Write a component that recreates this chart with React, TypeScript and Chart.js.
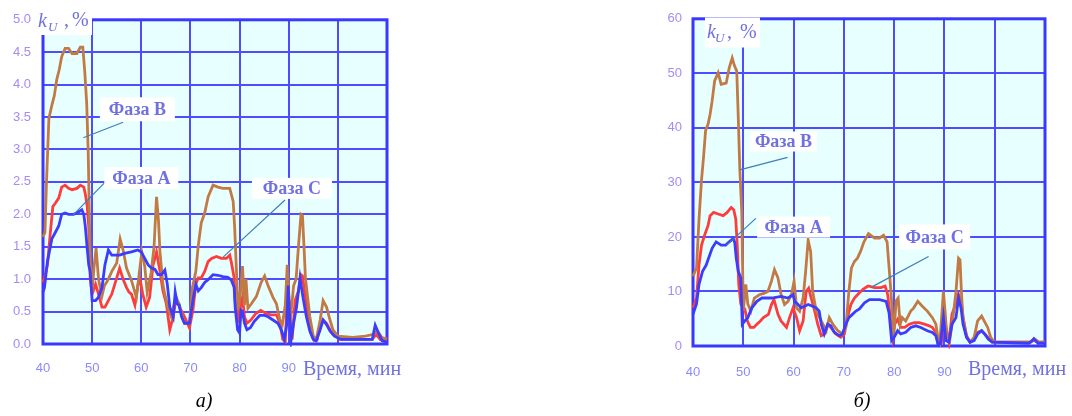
import React, { useEffect, useRef } from 'react';
import { Chart, registerables } from 'chart.js';

Chart.register(...registerables);

// ---------- Panel а) : time (min) and kU (%) ----------
const leftTimeA = [40, 40.3, 40.9, 41.8, 42.5, 43.2, 43.8, 44.5, 45.2, 46.2, 46.9, 47.9, 48.3, 48.6, 49.0, 49.3, 49.6, 50.0, 50.7, 51.3, 52.0, 52.6, 53.3, 54.0, 55.6, 56.8, 58.0, 59.3, 60.0, 60.7, 61.4, 62.1, 62.8, 63.4, 64.1, 64.8, 65.3, 65.8, 66.5, 66.9, 67.3, 67.7, 68.2, 68.8, 69.8, 70.5, 71.1, 71.6, 72.2, 72.9, 73.6, 74.6, 75.6, 76.6, 77.6, 78.3, 78.9, 79.1, 79.6, 80.0, 80.3, 80.6, 81.0, 81.5, 82.2, 83.0, 84.1, 85.1, 85.8, 86.8, 87.8, 88.5, 89.1, 89.6, 89.9, 90.2, 90.5, 91.0, 91.6, 92.3, 92.9, 93.6, 94.3, 95.0, 95.6, 96.4, 97.0, 97.7, 98.4, 99.3, 100.7, 107.0, 107.6, 108.1, 109.0, 110.0];
const leftPhaseA = [0.8, 0.87, 1.27, 1.62, 1.72, 1.82, 2.0, 2.02, 2.0, 2.0, 2.02, 2.07, 2.0, 1.82, 1.47, 1.22, 1.12, 0.67, 0.67, 0.72, 0.87, 1.22, 1.45, 1.37, 1.37, 1.4, 1.42, 1.45, 1.42, 1.32, 1.22, 1.17, 1.15, 1.07, 1.07, 1.14, 0.92, 0.57, 0.42, 0.8, 0.62, 0.6, 0.42, 0.32, 0.32, 0.67, 0.92, 0.82, 0.87, 0.95, 0.99, 1.07, 1.06, 1.04, 1.03, 0.99, 0.87, 0.57, 0.22, 0.17, 0.52, 0.5, 0.32, 0.22, 0.25, 0.35, 0.44, 0.44, 0.42, 0.37, 0.32, 0.22, 0.07, 0.3, 0.9, 0.4, 0.07, 0.32, 0.57, 1.02, 0.72, 0.42, 0.2, 0.07, 0.05, 0.22, 0.37, 0.3, 0.2, 0.12, 0.07, 0.07, 0.29, 0.2, 0.05, 0.03];

const leftTimeB = [40, 40.4, 40.7, 41.2, 41.8, 42.3, 42.8, 43.3, 43.8, 44.5, 45.2, 45.9, 46.9, 47.6, 48.1, 48.5, 48.9, 49.2, 49.6, 50.0, 50.4, 50.8, 51.3, 52.0, 52.5, 53.1, 54.0, 55.0, 55.7, 56.3, 57.0, 58.0, 59.0, 59.6, 60.1, 60.7, 61.2, 62.0, 62.6, 63.1, 63.5, 63.8, 64.4, 64.7, 65.4, 66.1, 67.0, 67.7, 68.4, 68.8, 69.8, 70.4, 71.1, 71.6, 72.2, 72.9, 73.6, 74.6, 75.6, 76.6, 78.0, 78.7, 79.0, 79.3, 79.7, 80.2, 80.6, 81.0, 81.3, 81.7, 82.4, 83.4, 84.4, 85.1, 85.8, 86.8, 87.5, 88.2, 88.7, 89.3, 89.7, 90.3, 91.0, 91.5, 92.0, 92.5, 92.8, 93.1, 93.4, 94.3, 95.0, 95.6, 96.4, 97.0, 97.7, 98.4, 99.0, 100.0, 103.0, 105.6, 107.3, 108.0, 109.0, 110.0];
const leftPhaseB = [1.65, 1.72, 2.47, 3.48, 3.68, 3.83, 4.08, 4.23, 4.43, 4.56, 4.56, 4.48, 4.48, 4.58, 4.58, 4.2, 3.7, 2.95, 1.3, 0.82, 1.2, 1.48, 1.0, 0.74, 0.9, 0.97, 1.12, 1.25, 1.62, 1.45, 1.17, 0.98, 0.72, 1.1, 1.42, 1.2, 0.8, 1.1, 1.5, 2.27, 1.9, 1.42, 0.92, 0.8, 0.57, 0.42, 0.72, 0.62, 0.4, 0.32, 0.32, 0.87, 1.12, 1.52, 1.87, 2.02, 2.27, 2.45, 2.42, 2.4, 2.4, 2.2, 1.8, 1.25, 0.52, 0.81, 1.2, 0.6, 1.0, 0.55, 0.62, 0.73, 0.95, 1.05, 0.9, 0.72, 0.62, 0.37, 0.3, 0.6, 1.22, 0.35, 0.9, 1.0, 1.52, 2.0, 1.98, 1.52, 1.02, 0.42, 0.12, 0.07, 0.37, 0.67, 0.57, 0.37, 0.22, 0.12, 0.1, 0.12, 0.15, 0.2, 0.1, 0.08];

const leftTimeC = [40, 40.3, 40.9, 41.5, 42.0, 42.5, 43.2, 43.8, 44.5, 45.2, 45.9, 46.9, 47.6, 48.3, 48.6, 49.0, 49.3, 49.6, 50.0, 50.7, 51.3, 52.0, 52.6, 53.3, 54.0, 54.6, 55.6, 56.3, 57.0, 57.5, 58.0, 58.7, 59.3, 59.7, 60.3, 61.0, 61.7, 62.4, 63.1, 63.8, 64.4, 65.1, 65.8, 66.5, 67.1, 67.8, 68.8, 69.8, 70.5, 71.1, 71.6, 72.2, 72.9, 73.6, 74.3, 75.3, 76.3, 77.3, 78.0, 78.3, 78.9, 79.1, 79.6, 79.9, 80.2, 80.6, 81.0, 81.5, 82.3, 83.3, 84.3, 85.4, 86.4, 87.5, 88.2, 88.8, 89.3, 89.7, 90.4, 90.7, 91.3, 92.0, 92.5, 92.8, 93.2, 93.9, 94.5, 95.2, 95.8, 96.3, 97.0, 97.7, 98.4, 99.0, 100.4, 107.0, 107.8, 108.6, 110.0];
const leftPhaseC = [0.95, 1.02, 1.22, 1.72, 2.12, 2.17, 2.25, 2.42, 2.45, 2.4, 2.38, 2.4, 2.45, 2.42, 2.32, 2.12, 1.82, 1.02, 0.77, 0.92, 0.77, 0.57, 0.57, 0.67, 0.77, 0.92, 1.17, 1.0, 0.87, 0.8, 0.77, 0.6, 0.9, 1.02, 0.77, 0.57, 0.72, 1.22, 1.42, 1.12, 0.82, 0.62, 0.22, 0.42, 0.72, 0.57, 0.42, 0.25, 0.52, 0.92, 1.02, 1.02, 1.12, 1.27, 1.32, 1.35, 1.32, 1.32, 1.37, 1.27, 1.02, 0.67, 0.32, 0.67, 0.57, 0.72, 0.42, 0.32, 0.37, 0.47, 0.52, 0.47, 0.45, 0.45, 0.32, 0.07, 0.04, 0.7, 0.32, 0.07, 0.67, 0.82, 1.07, 1.05, 0.82, 0.47, 0.17, 0.05, 0.07, 0.27, 0.37, 0.32, 0.22, 0.15, 0.07, 0.07, 0.15, 0.07, 0.05];

// ---------- Panel б) ----------
const rightTimeA = [40, 40.7, 41.2, 41.9, 42.6, 43.1, 43.8, 44.6, 45.6, 46.5, 47.2, 48.0, 48.3, 48.6, 49.0, 49.5, 49.8, 50.3, 50.9, 51.7, 52.7, 53.7, 55.7, 57.5, 58.9, 59.9, 60.2, 60.9, 61.5, 62.2, 62.9, 63.8, 64.5, 65.1, 65.5, 66.1, 66.8, 67.4, 68.1, 69.1, 69.7, 70.4, 71.0, 71.7, 72.4, 73.1, 74.1, 75.1, 77.1, 78.4, 79.0, 79.5, 80.0, 80.7, 81.3, 82.3, 83.3, 84.3, 85.3, 86.6, 87.6, 88.3, 88.7, 89.2, 89.8, 90.3, 90.9, 91.5, 92.3, 92.8, 93.3, 93.7, 94.4, 95.1, 95.9, 96.6, 97.4, 98.0, 98.7, 99.5, 106.8, 107.8, 108.6, 110];
const rightPhaseA = [5.8, 7.7, 11.3, 13.7, 14.8, 16.1, 17.9, 19.1, 18.5, 18.5, 19.1, 19.7, 19.0, 16.1, 13.7, 12.5, 4.0, 4.6, 5.2, 7.0, 8.2, 8.8, 8.8, 9.1, 8.8, 9.4, 8.2, 7.6, 7.0, 7.3, 7.6, 7.3, 7.0, 6.4, 4.0, 2.2, 4.0, 3.7, 2.5, 1.9, 2.2, 4.0, 5.2, 5.8, 6.4, 6.8, 7.9, 8.5, 8.5, 8.2, 6.0, 1.0, 1.6, 2.8, 2.2, 2.5, 3.4, 3.7, 3.4, 2.8, 2.5, 1.9, 0.4, 0.4, 5.2, 1.0, 0.7, 4.0, 5.2, 8.8, 7.0, 4.0, 1.6, 0.7, 1.0, 2.2, 2.8, 2.2, 1.3, 0.7, 0.5, 1.3, 0.5, 0.5];

const rightTimeB = [40, 40.7, 41.2, 41.7, 42.1, 42.5, 43.0, 43.4, 43.8, 44.3, 45.0, 45.6, 46.6, 47.2, 47.8, 48.2, 48.7, 49.0, 49.3, 49.7, 50.0, 50.5, 50.9, 51.5, 52.2, 53.2, 54.2, 54.9, 55.6, 56.2, 56.9, 57.5, 58.2, 58.9, 59.6, 60.1, 60.6, 61.2, 61.9, 62.4, 62.9, 63.4, 63.8, 64.5, 65.5, 66.5, 67.1, 67.8, 68.8, 69.7, 70.4, 71.0, 71.5, 72.1, 72.7, 73.3, 74.0, 74.9, 76.1, 77.1, 77.9, 78.6, 79.0, 79.4, 79.9, 80.4, 80.8, 81.2, 81.6, 82.3, 83.3, 83.9, 84.7, 85.6, 86.6, 87.6, 88.3, 88.7, 89.1, 89.8, 90.2, 90.5, 91.0, 91.7, 92.3, 92.8, 93.1, 93.4, 93.7, 94.4, 95.1, 95.9, 96.6, 97.4, 97.9, 98.6, 99.2, 99.9, 107.2, 107.8, 108.8, 110];
const rightPhaseB = [12.8, 14.3, 23.3, 30.5, 34.7, 39.5, 40.7, 42.5, 44.9, 48.6, 50.1, 48.0, 48.2, 51.0, 52.8, 51.5, 50.4, 42.0, 32.6, 24.5, 6.4, 11.3, 7.7, 6.4, 8.8, 9.4, 9.7, 10.0, 11.9, 14.0, 12.5, 9.5, 7.6, 8.2, 9.5, 11.9, 7.0, 6.4, 8.8, 13.7, 19.4, 17.3, 10.0, 6.4, 4.6, 2.8, 5.2, 4.0, 2.8, 2.2, 3.4, 10.0, 14.3, 15.5, 16.1, 17.3, 19.1, 20.6, 19.8, 19.8, 20.3, 19.1, 14.3, 9.5, 1.6, 8.3, 8.8, 4.0, 5.2, 4.6, 6.4, 7.0, 8.2, 7.3, 6.4, 5.2, 4.0, 1.6, 0.7, 10.0, 5.5, 1.6, 0.7, 5.2, 10.0, 16.1, 15.8, 9.5, 5.2, 1.6, 0.7, 1.6, 4.6, 5.5, 4.6, 3.4, 1.6, 0.7, 0.7, 1.4, 0.7, 0.7];

const rightTimeC = [40, 40.7, 41.2, 41.7, 42.3, 43.0, 43.4, 44.1, 45.0, 46.0, 46.8, 47.6, 48.1, 48.5, 48.8, 49.1, 49.5, 50.0, 50.3, 50.8, 51.4, 52.1, 52.7, 53.4, 54.0, 55.0, 55.6, 56.1, 56.9, 57.5, 58.6, 59.2, 59.9, 60.6, 61.2, 61.9, 62.5, 63.0, 63.5, 64.2, 64.8, 65.5, 66.1, 66.8, 67.4, 68.4, 69.4, 70.1, 70.7, 71.4, 72.1, 72.8, 73.8, 74.8, 76.1, 77.4, 78.2, 78.7, 79.1, 79.7, 80.1, 80.7, 81.3, 82.1, 83.0, 84.0, 85.0, 86.0, 87.0, 87.6, 88.3, 88.7, 89.4, 89.9, 90.3, 90.9, 91.5, 92.2, 92.8, 93.3, 93.7, 94.4, 95.1, 95.9, 96.6, 97.4, 98.0, 98.7, 99.5, 107.0, 107.8, 108.6, 110];
const rightPhaseC = [7.0, 8.8, 14.9, 18.5, 20.3, 22.1, 23.9, 24.5, 24.2, 23.9, 24.5, 25.4, 25.0, 23.3, 18.5, 11.3, 7.7, 7.0, 6.8, 4.6, 3.4, 3.4, 4.0, 4.6, 5.2, 5.8, 7.6, 8.5, 5.8, 4.6, 3.4, 5.2, 7.0, 5.2, 2.8, 4.6, 10.0, 10.6, 8.8, 6.4, 4.0, 1.9, 2.2, 4.0, 3.4, 2.2, 1.6, 2.2, 5.2, 7.6, 8.8, 9.5, 10.4, 11.0, 10.7, 10.7, 11.0, 9.5, 6.4, 1.6, 4.0, 4.9, 3.4, 3.4, 4.0, 4.3, 4.3, 4.0, 3.7, 3.4, 2.5, 0.5, 0.5, 6.0, 3.4, 0.7, 5.8, 7.6, 9.5, 8.2, 5.2, 1.9, 0.7, 1.3, 2.5, 2.8, 2.2, 1.5, 0.7, 0.7, 1.0, 0.7, 0.7];

// Axis ranges and tick labels
const xMin = 40;
const xMax = 110;
const xStep = 10;
const xLabelledMax = 90;
const leftYMax = 5;
const leftYStep = 0.5;
const rightYMax = 60;
const rightYStep = 10;
const axisTitle = 'Время, мин';
const leftCaption = 'а)';
const rightCaption = 'б)';
const phaseLabelA = 'Фаза А';
const phaseLabelB = 'Фаза В';
const phaseLabelC = 'Фаза С';

// Styles
const BLUE = '#3c3cff';
const BROWN = '#c27a45';
const RED = '#ff3c3c';
const GRID = '#4d4dff';
const FRAME = '#3838ff';
const PLOT_BG = '#e8ffff';
const TEXT = '#7070e2';
const LEADER = '#3f7fb5';
const YTICK = '#a68cf2';
const XTICK = '#8a8aff';

type LabelSpec = { text: string; cx: number; cy: number; w: number; h: number; from: [number, number]; to: [number, number] };

type PanelSpec = {
  left: number;
  width: number;
  height: number;
  padTop: number;
  padRight: number;
  yAxisWidth: number;
  xAxisHeight: number;
  yMax: number;
  yStep: number;
  yDecimals: number;
  xTickPad: number;
  yTickPad: number;
  series: { t: number[]; v: number[]; color: string }[];
  labels: LabelSpec[];
  kBox: [number, number, number, number];
  kText: { kx: number; ky: number; ux: number; uy: number; cx: number; px: number; base: number };
  titleX: number;
  titleBase: number;
  captionX: number;
  captionBase: number;
  caption: string;
};

const zip = (t: number[], v: number[]) => t.map((x, i) => ({ x, y: v[i] }));

function makeDecor(spec: PanelSpec) {
  return {
    id: 'decor',
    beforeDraw(chart: any) {
      const { ctx, chartArea: a } = chart;
      ctx.save();
      ctx.fillStyle = '#ffffff';
      ctx.fillRect(0, 0, chart.width, chart.height);
      ctx.fillStyle = PLOT_BG;
      ctx.fillRect(a.left, a.top, a.right - a.left, a.bottom - a.top);
      ctx.restore();
    },
    beforeDatasetsDraw(chart: any) {
      const { ctx, chartArea: a } = chart;
      ctx.save();
      ctx.strokeStyle = FRAME;
      ctx.lineWidth = 3;
      ctx.strokeRect(a.left, a.top, a.right - a.left, a.bottom - a.top);
      ctx.fillStyle = '#ffffff';
      const [bx, by, bw, bh] = spec.kBox;
      ctx.fillRect(bx, by, bw, bh);
      const k = spec.kText;
      ctx.fillStyle = TEXT;
      ctx.textBaseline = 'alphabetic';
      ctx.textAlign = 'left';
      ctx.font = 'italic 20px "Liberation Serif", serif';
      ctx.fillText('k', k.kx, k.ky);
      ctx.font = 'italic 13px "Liberation Serif", serif';
      ctx.fillText('U', k.ux, k.uy);
      ctx.font = '20px "Liberation Serif", serif';
      ctx.fillText(',', k.cx, k.base);
      ctx.fillText('%', k.px, k.base);
      ctx.restore();
    },
    afterDatasetsDraw(chart: any) {
      const { ctx } = chart;
      const xs = chart.scales.x;
      const ys = chart.scales.y;
      ctx.save();
      for (const l of spec.labels) {
        ctx.strokeStyle = LEADER;
        ctx.lineWidth = 1.2;
        ctx.beginPath();
        ctx.moveTo(xs.getPixelForValue(l.from[0]), ys.getPixelForValue(l.from[1]));
        ctx.lineTo(xs.getPixelForValue(l.to[0]), ys.getPixelForValue(l.to[1]));
        ctx.stroke();
        const cx = xs.getPixelForValue(l.cx);
        const cy = ys.getPixelForValue(l.cy);
        ctx.fillStyle = '#ffffff';
        ctx.fillRect(cx - l.w / 2, cy - l.h / 2, l.w, l.h);
        ctx.fillStyle = TEXT;
        ctx.font = 'bold 18px "Liberation Serif", serif';
        ctx.textAlign = 'center';
        ctx.textBaseline = 'middle';
        ctx.fillText(l.text, cx, cy + 1);
      }
      ctx.fillStyle = TEXT;
      ctx.textAlign = 'left';
      ctx.textBaseline = 'alphabetic';
      ctx.font = '20px "Liberation Serif", serif';
      ctx.fillText(axisTitle, spec.titleX, spec.titleBase);
      ctx.fillStyle = '#000000';
      ctx.textAlign = 'center';
      ctx.font = 'italic 20px "Liberation Serif", serif';
      ctx.fillText(spec.caption, spec.captionX, spec.captionBase);
      ctx.restore();
    },
  };
}

function Panel({ spec }: { spec: PanelSpec }) {
  const ref = useRef<HTMLCanvasElement>(null);
  useEffect(() => {
    const chart = new Chart(ref.current as HTMLCanvasElement, {
      type: 'line',
      data: {
        datasets: spec.series.map((s) => ({
          data: zip(s.t, s.v),
          borderColor: s.color,
          borderWidth: 2.8,
          pointRadius: 0,
          tension: 0,
          fill: false,
          clip: 3,
        })),
      },
      options: {
        animation: false,
        responsive: false,
        devicePixelRatio: 1,
        layout: { padding: { top: spec.padTop, right: spec.padRight, left: 0, bottom: 0 } },
        plugins: { legend: { display: false }, tooltip: { enabled: false } },
        scales: {
          x: {
            type: 'linear',
            min: xMin,
            max: xMax,
            afterFit: (s: any) => { s.height = spec.xAxisHeight; },
            ticks: {
              stepSize: xStep,
              autoSkip: false,
              maxRotation: 0,
              padding: spec.xTickPad,
              color: XTICK,
              font: { family: '"Liberation Sans", Arial, sans-serif', size: 13 },
              callback: (v: any) => (Number(v) <= xLabelledMax ? String(v) : ''),
            },
            grid: { color: GRID, lineWidth: 2, drawTicks: false },
            border: { display: false },
          },
          y: {
            type: 'linear',
            min: 0,
            max: spec.yMax,
            afterFit: (s: any) => { s.width = spec.yAxisWidth; },
            ticks: {
              stepSize: spec.yStep,
              padding: spec.yTickPad,
              color: YTICK,
              font: { family: '"Liberation Sans", Arial, sans-serif', size: 13 },
              callback: (v: any) => Number(v).toFixed(spec.yDecimals),
            },
            grid: { color: GRID, lineWidth: 2, drawTicks: false },
            border: { display: false },
          },
        },
      },
      plugins: [makeDecor(spec)],
    } as any);
    return () => chart.destroy();
  }, []);
  return (
    <canvas
      ref={ref}
      width={spec.width}
      height={spec.height}
      style={{ position: 'absolute', left: spec.left, top: 0, width: spec.width, height: spec.height }}
    />
  );
}

const leftSpec: PanelSpec = {
  left: 0,
  width: 420,
  height: 416,
  padTop: 13,
  padRight: 33,
  yAxisWidth: 43,
  xAxisHeight: 72,
  yMax: leftYMax,
  yStep: leftYStep,
  yDecimals: 1,
  xTickPad: 17,
  yTickPad: 12,
  series: [
    { t: leftTimeA, v: leftPhaseA, color: BLUE },
    { t: leftTimeB, v: leftPhaseB, color: BROWN },
    { t: leftTimeC, v: leftPhaseC, color: RED },
  ],
  labels: [
    { text: phaseLabelB, cx: 59.2, cy: 3.62, w: 75, h: 24, from: [56.3, 3.42], to: [48.2, 3.18] },
    { text: phaseLabelA, cx: 60.0, cy: 2.56, w: 74, h: 22, from: [52.7, 2.5], to: [46.0, 1.98] },
    { text: phaseLabelC, cx: 90.65, cy: 2.4, w: 80, h: 21, from: [89.25, 2.22], to: [76.65, 1.34] },
  ],
  kBox: [38, 0, 54, 35],
  kText: { kx: 38, ky: 27, ux: 48, uy: 31, cx: 64, px: 72, base: 26 },
  titleX: 303,
  titleBase: 375,
  captionX: 204,
  captionBase: 407,
  caption: leftCaption,
};

const rightSpec: PanelSpec = {
  left: 650,
  width: 422,
  height: 416,
  padTop: 14,
  padRight: 27,
  yAxisWidth: 43,
  xAxisHeight: 70,
  yMax: rightYMax,
  yStep: rightYStep,
  yDecimals: 0,
  xTickPad: 19,
  yTickPad: 11,
  series: [
    { t: rightTimeA, v: rightPhaseA, color: BLUE },
    { t: rightTimeB, v: rightPhaseB, color: BROWN },
    { t: rightTimeC, v: rightPhaseC, color: RED },
  ],
  labels: [
    { text: phaseLabelB, cx: 58.0, cy: 37.5, w: 67, h: 20, from: [58.8, 34.6], to: [49.3, 32.3] },
    { text: phaseLabelA, cx: 60.0, cy: 21.8, w: 73, h: 21, from: [52.5, 23.4], to: [46.7, 18.5] },
    { text: phaseLabelC, cx: 88.05, cy: 20.0, w: 71, h: 25, from: [86.85, 16.4], to: [75.5, 10.8] },
  ],
  kBox: [55, 17.5, 55, 30],
  kText: { kx: 57, ky: 38, ux: 65, uy: 42, cx: 77, px: 90, base: 38 },
  titleX: 318,
  titleBase: 375,
  captionX: 212,
  captionBase: 407,
  caption: rightCaption,
};

export default function App() {
  useEffect(() => {
    document.body.style.margin = '0';
  }, []);
  return (
    <div style={{ position: 'relative', width: 1072, height: 416, background: '#ffffff' }}>
      <Panel spec={leftSpec} />
      <Panel spec={rightSpec} />
    </div>
  );
}
